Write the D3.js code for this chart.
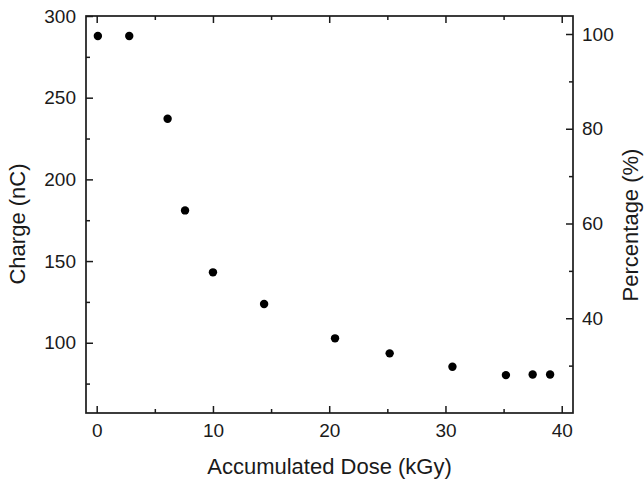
<!DOCTYPE html>
<html><head><meta charset="utf-8">
<script src="https://cdn.jsdelivr.net/npm/d3@7"></script>
<style>
html,body{margin:0;padding:0;background:#fff;}
svg{display:block;font-family:"Liberation Sans",Arial,Helvetica,sans-serif;}
</style></head>
<body><svg id="chart" width="644" height="479"></svg>
<script>
const dose   = [0.1, 2.8, 6.1, 7.6, 10.0, 14.4, 20.5, 25.2, 30.6, 35.2, 37.5, 39.0];
const charge = [287.8, 287.8, 237.1, 181.0, 143.1, 123.7, 102.7, 93.5, 85.3, 80.2, 80.6, 80.6];
const xTicks = [0, 10, 20, 30, 40];
const xMinor = [5, 15, 25, 35];
const yTicks = [100, 150, 200, 250, 300];
const yMinor = [75, 125, 175, 225, 275];
const pTicks = [40, 60, 80, 100];
const pMinor = [30, 50, 70, 90];
const xTitle = "Accumulated Dose (kGy)";
const yTitle = "Charge (nC)";
const pTitle = "Percentage (%)";

const L = 86, R = 573, T = 16, B = 413;
const svg = d3.select("#chart");
const x = d3.scaleLinear().domain([-0.92, 40.97]).range([L, R]);
const y = d3.scaleLinear().domain([57, 300]).range([B, T]);
const yp = d3.scaleLinear().domain([20, 103.8]).range([B, T]);

const col = "#1a1a1a";
const tickFs = 19, titleFs = 22;
function style(g, fs) {
  g.select(".domain").remove();
  g.selectAll("line").attr("stroke", col).attr("stroke-width", 1.5);
  g.selectAll("text").attr("fill", col).style("font-size", fs + "px");
}
// bottom
svg.append("g").attr("transform", `translate(0,${B})`)
  .call(d3.axisBottom(x).tickValues(xTicks).tickSize(-7).tickPadding(11).tickFormat(d3.format("d")))
  .call(g => style(g, tickFs));
svg.append("g").attr("transform", `translate(0,${B})`)
  .call(d3.axisBottom(x).tickValues(xMinor).tickSize(-4).tickFormat(""))
  .call(g => style(g, tickFs));
// top
svg.append("g").attr("transform", `translate(0,${T})`)
  .call(d3.axisTop(x).tickValues(xTicks).tickSize(-7).tickFormat(""))
  .call(g => style(g, tickFs));
svg.append("g").attr("transform", `translate(0,${T})`)
  .call(d3.axisTop(x).tickValues(xMinor).tickSize(-4).tickFormat(""))
  .call(g => style(g, tickFs));
// left
svg.append("g").attr("transform", `translate(${L},0)`)
  .call(d3.axisLeft(y).tickValues(yTicks).tickSize(-7).tickPadding(10).tickFormat(d3.format("d")))
  .call(g => style(g, tickFs));
svg.append("g").attr("transform", `translate(${L},0)`)
  .call(d3.axisLeft(y).tickValues(yMinor).tickSize(-4).tickFormat(""))
  .call(g => style(g, tickFs));
// right
svg.append("g").attr("transform", `translate(${R},0)`)
  .call(d3.axisRight(yp).tickValues(pTicks).tickSize(-7).tickPadding(9).tickFormat(d3.format("d")))
  .call(g => style(g, tickFs));
svg.append("g").attr("transform", `translate(${R},0)`)
  .call(d3.axisRight(yp).tickValues(pMinor).tickSize(-4).tickFormat(""))
  .call(g => style(g, tickFs));

// frame
svg.append("rect").attr("x", L).attr("y", T).attr("width", R - L).attr("height", B - T)
  .attr("fill", "none").attr("stroke", col).attr("stroke-width", 1.7);

// points
svg.append("g").selectAll("circle").data(dose.map((d, i) => [d, charge[i]]))
  .join("circle").attr("cx", d => x(d[0])).attr("cy", d => y(d[1])).attr("r", 4.2).attr("fill", "#000");

// titles
svg.append("text").attr("x", (L + R) / 2).attr("y", 474).attr("text-anchor", "middle")
  .style("font-size", titleFs + "px").attr("fill", col).text(xTitle);
svg.append("text").attr("transform", "translate(25,224) rotate(-90)").attr("text-anchor", "middle")
  .style("font-size", titleFs + "px").attr("fill", col).text(yTitle);
svg.append("text").attr("transform", "translate(638,225) rotate(-90)").attr("text-anchor", "middle")
  .style("font-size", titleFs + "px").attr("fill", col).text(pTitle);
</script></body></html>
